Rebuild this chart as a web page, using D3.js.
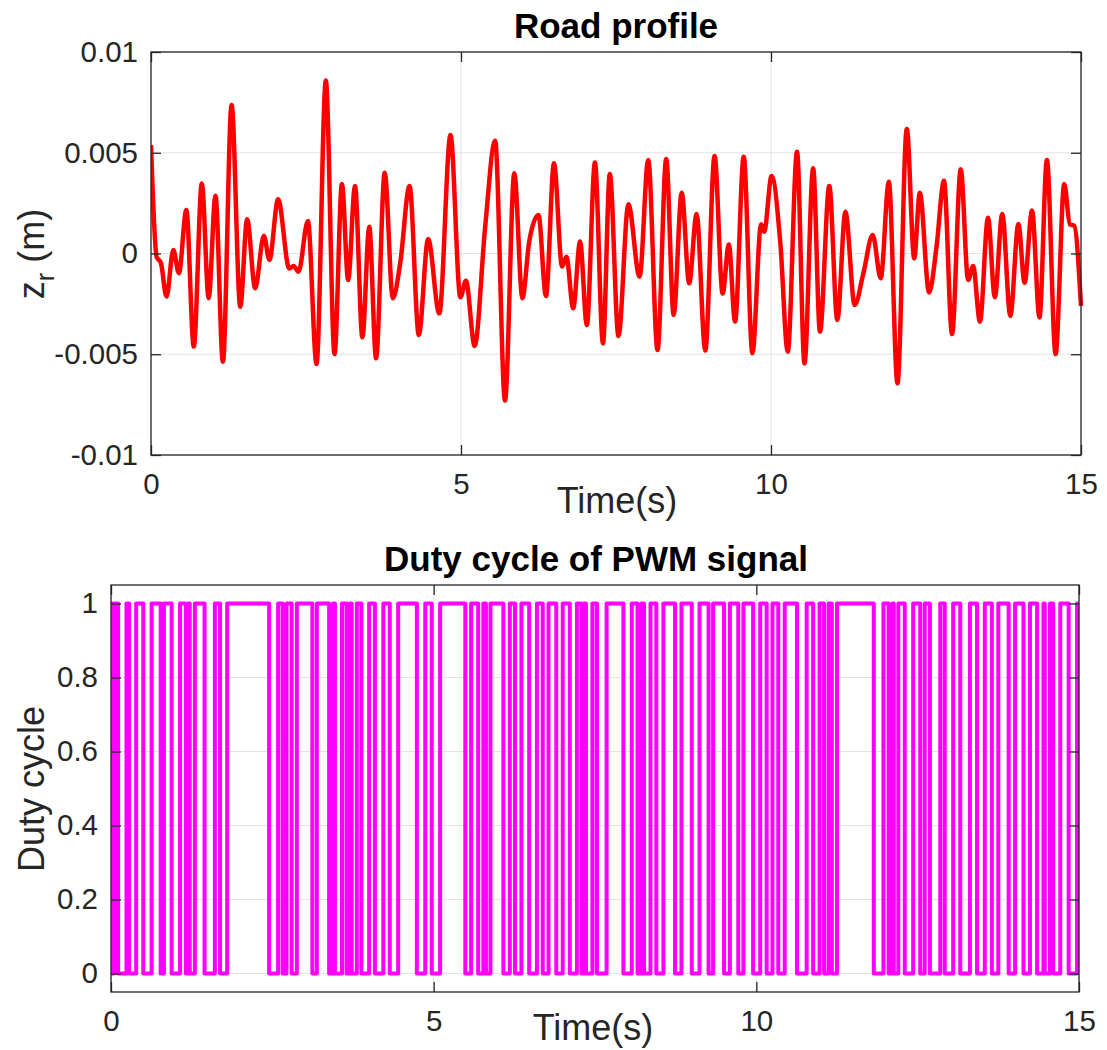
<!DOCTYPE html>
<html><head><meta charset="utf-8">
<script src="https://cdn.jsdelivr.net/npm/d3@7"></script>
<style>
body{margin:0;background:#fff;}
text{font-family:"Liberation Sans",Arial,Helvetica,sans-serif;}
</style></head>
<body>
<svg id="c" width="1107" height="1050"></svg>
<script>
// ---------- DATA ----------
const roadTitle = "Road profile";
const pwmTitle = "Duty cycle of PWM signal";
const xTicks = [0, 5, 10, 15];
const roadYTicks = [-0.01, -0.005, 0, 0.005, 0.01];
const roadYTickLabels = ["-0.01", "-0.005", "0", "0.005", "0.01"];
const pwmYTicks = [0, 0.2, 0.4, 0.6, 0.8, 1];
const pwmYTickLabels = ["0", "0.2", "0.4", "0.6", "0.8", "1"];

// road profile: time (s) and displacement (mm, scaled to m below)
const roadT = [0,0.09,0.16,0.25,0.36,0.45,0.57,0.69,0.82,0.93,1.04,1.16,1.30,1.44,1.55,1.68,1.82,1.91,2.05,2.23,2.30,2.38,2.53,2.67,2.82,2.96,3.08,3.18,3.29,3.41,3.52,3.63,3.77,3.90,4.02,4.17,4.32,4.47,4.65,4.83,4.99,5.08,5.22,5.39,5.55,5.71,5.86,5.99,6.10,6.25,6.37,6.50,6.63,6.70,6.81,6.92,7.03,7.16,7.29,7.40,7.54,7.70,7.88,8.02,8.17,8.31,8.43,8.56,8.68,8.80,8.94,9.09,9.22,9.32,9.42,9.56,9.70,9.84,9.89,10.01,10.15,10.27,10.42,10.54,10.68,10.79,10.94,11.07,11.20,11.35,11.49,11.64,11.77,11.90,12.04,12.19,12.31,12.40,12.55,12.67,12.79,12.92,13.06,13.18,13.26,13.37,13.50,13.61,13.73,13.86,13.99,14.09,14.21,14.33,14.45,14.59,14.73,14.82,14.89,15.0];
const roadMM = [5.38,-0.16,-0.47,-2.14,0.17,-0.98,2.16,-4.62,3.48,-2.22,2.87,-5.37,7.37,-2.64,1.70,-1.73,0.88,-0.32,2.69,-0.74,-0.62,-0.90,1.61,-5.48,8.58,-4.99,3.45,-1.32,3.35,-4.16,1.33,-5.20,4.01,-2.22,-0.47,3.35,-4.04,0.72,-2.97,5.88,-2.17,-1.35,-4.59,1.33,5.60,-7.30,3.98,-2.22,0.59,1.91,-2.11,4.48,-0.65,-0.16,-2.72,0.59,-3.55,4.51,-4.46,3.95,-4.09,2.44,-1.15,4.64,-4.79,4.69,-3.05,3.02,-1.48,1.96,-4.82,4.84,-1.98,0.45,-3.38,4.80,-4.95,1.45,1.08,3.85,0.55,-4.87,5.05,-5.45,4.23,-3.88,3.35,-3.30,2.07,-2.56,-0.98,0.92,-1.23,3.56,-6.44,6.18,-0.24,3.02,-1.94,0.34,3.61,-4.00,4.18,-1.32,-0.62,-3.38,1.78,-2.17,1.96,-3.10,1.46,-1.45,2.13,-3.17,4.64,-4.99,3.45,1.45,1.38,-2.60];

// PWM duty cycle: intervals (s) where the duty cycle is 0; it is 1 elsewhere
const pwmLowStart = [0.02,0.11,0.28,0.50,0.77,0.94,1.16,1.22,1.45,1.69,2.45,2.66,2.80,3.12,3.38,3.47,3.65,3.73,3.88,4.09,4.32,4.74,4.97,5.49,5.69,5.81,6.08,6.26,6.48,6.69,6.90,7.11,7.29,7.36,7.53,7.94,8.16,8.26,8.45,8.74,9.00,9.26,9.50,9.72,9.95,10.16,10.34,10.63,10.88,11.05,11.17,11.82,12.05,12.13,12.30,12.54,12.69,12.92,13.16,13.42,13.65,13.91,14.14,14.35,14.47,14.60,14.84];
const pwmLowEnd   = [0.05,0.24,0.39,0.63,0.82,1.07,1.20,1.30,1.61,1.80,2.59,2.72,2.88,3.19,3.44,3.58,3.70,3.81,4.00,4.22,4.45,4.87,5.10,5.58,5.77,5.88,6.18,6.36,6.60,6.78,7.00,7.22,7.33,7.46,7.68,8.07,8.22,8.36,8.56,8.84,9.12,9.33,9.59,9.80,10.06,10.25,10.44,10.78,10.98,11.12,11.25,11.97,12.11,12.20,12.43,12.61,12.85,13.05,13.31,13.54,13.75,14.01,14.24,14.45,14.55,14.71,14.97];

// ---------- DRAW ----------
const svg = d3.select("#c");
const AX = "#262626", GRID = "#e3e3e3";
const FS = 29.5, LFS = 36, TFS = 35;

function panel(o){
  const g = svg.append("g");
  const x = d3.scaleLinear().domain([0,15]).range([o.x0,o.x1]);
  const y = d3.scaleLinear().domain(o.ydom).range([o.y1,o.y0]);
  // grid
  g.selectAll(".gx").data(xTicks).join("line")
    .attr("x1",d=>x(d)).attr("x2",d=>x(d)).attr("y1",o.y0).attr("y2",o.y1)
    .attr("stroke",GRID).attr("stroke-width",1);
  g.selectAll(".gy").data(o.yticks).join("line")
    .attr("x1",o.x0).attr("x2",o.x1).attr("y1",d=>y(d)).attr("y2",d=>y(d))
    .attr("stroke",GRID).attr("stroke-width",1);
  // data line
  const cid = "clip"+o.id;
  svg.append("clipPath").attr("id",cid).append("rect")
    .attr("x",o.x0).attr("y",o.y0-4).attr("width",o.x1-o.x0+3).attr("height",o.y1-o.y0+8);
  g.append("path").datum(o.data)
    .attr("clip-path",`url(#${cid})`)
    .attr("fill","none").attr("stroke",o.color).attr("stroke-width",o.lw)
    .attr("stroke-linejoin","round").attr("stroke-linecap","butt")
    .attr("d",d3.line().x(d=>x(d[0])).y(d=>y(d[1])).curve(o.curve));
  // axes (ticks inward, box)
  const tl = 10;
  const bottom = d3.axisBottom(x).tickValues(xTicks).tickSize(-tl).tickPadding(18).tickFormat(d3.format("d"));
  const top = d3.axisTop(x).tickValues(xTicks).tickSize(-tl).tickFormat("");
  const left = d3.axisLeft(y).tickValues(o.yticks).tickSize(-tl).tickPadding(13).tickFormat((d,i)=>o.ylabels[i]);
  const right = d3.axisRight(y).tickValues(o.yticks).tickSize(-tl).tickFormat("");
  const style = s => { s.select(".domain").attr("stroke",AX).attr("stroke-width",1.3);
    s.selectAll(".tick line").attr("stroke",AX).attr("stroke-width",1.3);
    s.selectAll(".tick text").attr("fill",AX).attr("font-size",FS).attr("font-family","Liberation Sans, Arial, sans-serif"); };
  g.append("g").attr("transform",`translate(0,${o.y1})`).call(bottom).call(style);
  g.append("g").attr("transform",`translate(0,${o.y0})`).call(top).call(style);
  g.append("g").attr("transform",`translate(${o.x0},0)`).call(left).call(style);
  g.append("g").attr("transform",`translate(${o.x1},0)`).call(right).call(style);
  g.selectAll(".domain").attr("d",null);
  g.append("rect").attr("x",o.x0).attr("y",o.y0).attr("width",o.x1-o.x0).attr("height",o.y1-o.y0)
    .attr("fill","none").attr("stroke",AX).attr("stroke-width",1.3);
  // title
  g.append("text").attr("x",o.tx).attr("y",o.ty).attr("text-anchor","middle")
    .attr("font-size",TFS).attr("font-weight","bold").attr("fill","#000").text(o.title);
  // x label
  g.append("text").attr("x",o.xlx).attr("y",o.xly).attr("text-anchor","middle")
    .attr("font-size",LFS).attr("fill",AX).text("Time(s)");
  return {g,x,y};
}

const roadData = roadT.map((t,i)=>[t, roadMM[i]/1000]);
const pwmData = [[0,1]];
pwmLowStart.forEach((a,i)=>{ const b = pwmLowEnd[i];
  pwmData.push([a,1],[a,0],[b,0],[b,1]); });
pwmData.push([15,1]);

const p1 = panel({id:1,x0:151,x1:1081,y0:52,y1:455,ydom:[-0.01,0.01],yticks:roadYTicks,ylabels:roadYTickLabels,
  data:roadData,color:"#ff0000",lw:4.5,curve:d3.curveMonotoneX,title:roadTitle,tx:616,ty:38,xlx:617,xly:513});
// y label with subscript
const yl1 = p1.g.append("text").attr("transform","translate(44,254) rotate(-90)").attr("text-anchor","middle")
  .attr("font-size",LFS).attr("fill",AX);
yl1.append("tspan").text("z");
yl1.append("tspan").attr("font-size",25).attr("dy",10).text("r");
yl1.append("tspan").attr("dy",-10).text(" (m)");

const p2 = panel({id:2,x0:111,x1:1079,y0:585,y1:992,ydom:[-0.05,1.05],yticks:pwmYTicks,ylabels:pwmYTickLabels,
  data:pwmData,color:"#ff00ff",lw:4,curve:d3.curveLinear,title:pwmTitle,tx:596,ty:571,xlx:593,xly:1040});
p2.g.append("text").attr("transform","translate(44,789) rotate(-90)").attr("text-anchor","middle")
  .attr("font-size",LFS).attr("fill",AX).text("Duty cycle");
</script>
</body></html>
